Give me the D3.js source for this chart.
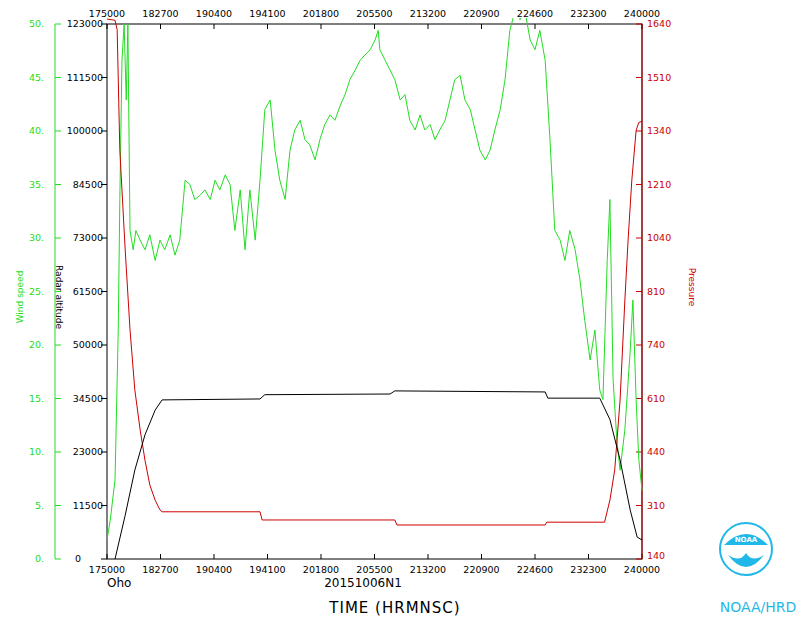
<!DOCTYPE html>
<html><head><meta charset="utf-8">
<script src="https://cdn.jsdelivr.net/npm/d3@7"></script>
<style>body{margin:0;background:#fff}text{font-family:"DejaVu Sans",sans-serif}</style>
</head><body><svg id="c" width="800" height="640"></svg>
<script>
const timeLabels=["175000","182700","190400","194100","201800","205500","213200","220900","224600","232300","240000"];
const windTicks=["0.","5.","10.","15.","20.","25.","30.","35.","40.","45.","50."];
const altTicks=[0,11500,23000,34500,50000,61500,73000,84500,100000,111500,123000];
const presTicks=[140,310,440,610,740,810,1040,1210,1340,1510,1640];
// time positions in tick-index units
const windT=[0,.06,.15,.21,.24,.28,.32,.36,.39,.43,.49,.54,.62,.71,.80,.90,.99,1.08,1.18,1.27,1.36,1.46,1.55,1.64,1.74,1.83,1.93,2.02,2.11,2.21,2.30,2.39,2.49,2.58,2.67,2.77,2.86,2.95,3.05,3.14,3.23,3.33,3.42,3.51,3.61,3.70,3.79,3.89,3.98,4.07,4.17,4.26,4.36,4.45,4.54,4.64,4.73,4.82,4.92,5.01,5.07,5.10,5.20,5.29,5.38,5.48,5.57,5.66,5.76,5.85,5.94,6.04,6.13,6.22,6.32,6.41,6.50,6.60,6.69,6.79,6.88,6.97,7.07,7.16,7.25,7.35,7.44,7.53,7.63,7.68,7.72,7.81,7.91,8.00,8.09,8.19,8.28,8.37,8.47,8.56,8.65,8.75,8.84,8.93,9.03,9.12,9.21,9.27,9.35,9.40,9.46,9.53,9.59,9.68,9.78,9.83,9.89,9.94,10];
const windV=[1.8,3.6,7.4,21.4,33.6,46.6,50,42.9,50,30.7,28.9,30.7,29.8,28.9,30.3,27.9,29.8,28.9,30.3,28.4,29.8,35.4,35,33.6,34,34.5,33.6,35.4,34.5,35.9,35,30.7,34.5,28.9,34.5,29.8,35.4,42,42.9,38.2,35.4,33.6,38.2,40.1,41,39.2,38.7,37.3,39.2,40.6,41.5,41,42.4,43.4,44.8,45.7,46.6,47.1,47.6,48.5,49.4,47.6,46.6,45.7,44.8,42.9,43.4,41,40.1,41.5,40.1,40.6,39.2,40.1,41,42.9,44.8,45.2,42.9,42,40.1,38.2,37.3,38.2,40.1,42,44.8,49.4,51.3,52,50.4,51.3,48.5,47.6,49.4,46.6,39.2,30.7,29.8,27.9,30.7,28.9,26.1,22.3,18.6,21.4,15.8,14.9,27.9,33.6,16.7,11.1,8.3,12.1,19.5,24.2,14.9,9.3,6.4];
const altT=[.15,.34,.52,.71,.90,1.03,2.86,2.95,5.29,5.38,8.19,8.24,9.21,9.40,9.59,9.78,9.91,10];
const altV=[0,9400,19100,26700,32000,34200,34400,35600,35800,36700,36400,34600,34600,30000,21300,10500,4700,4100];
const presT=[0,.15,.19,.24,.34,.43,.52,.62,.71,.80,.90,.99,1.03,2.86,2.90,5.38,5.42,8.19,8.22,9.30,9.40,9.49,9.59,9.68,9.74,9.81,9.89,9.94,10];
const presV=[1652,1649,1626,1293,989,760,631,510,420,360,323,296,290,290,264,264,248,248,257,257,323,396,605,799,1031,1221,1342,1367,1371];

const svg=d3.select("#c");
const L=107,R=642,T=24,B=559;
const x=d3.scaleLinear().domain([0,10]).range([L,R]);
const even=d3.range(11).map(i=>B-(B-T)*i/10);
const yW=d3.scaleLinear().domain([0,50]).range([B,T]);
const yA=d3.scaleLinear().domain(altTicks).range(even);
const yP=d3.scaleLinear().domain(presTicks).range(even);
svg.append("defs").append("clipPath").attr("id","clip").append("rect").attr("x",L).attr("y",T-6).attr("width",R-L+1).attr("height",B-T+6);
const fs=9.5;
svg.append("rect").attr("x",L).attr("y",T).attr("width",R-L).attr("height",B-T).attr("fill","none").attr("stroke","#000");
timeLabels.forEach((lab,i)=>{
  const xx=x(i);
  svg.append("line").attr("x1",xx).attr("x2",xx).attr("y1",B).attr("y2",B-5).attr("stroke","#000");
  svg.append("line").attr("x1",xx).attr("x2",xx).attr("y1",T).attr("y2",T+5).attr("stroke","#000");
  svg.append("text").attr("x",xx).attr("y",B+14).attr("text-anchor","middle").attr("font-size",fs).text(lab);
  svg.append("text").attr("x",xx).attr("y",T-7).attr("text-anchor","middle").attr("font-size",fs).text(lab);
});
altTicks.forEach(v=>{
  svg.append("line").attr("x1",L).attr("x2",L-6).attr("y1",yA(v)).attr("y2",yA(v)).attr("stroke","#000");
  svg.append("text").attr("x",v===0?75:L-4).attr("y",yA(v)+3).attr("text-anchor",v===0?"start":"end").attr("font-size",fs).text(v);
});
const G="#22dd22";
svg.append("line").attr("x1",55).attr("x2",55).attr("y1",T).attr("y2",B).attr("stroke",G);
windTicks.forEach((lab,i)=>{
  const yy=yW(i*5);
  svg.append("line").attr("x1",55).attr("x2",61).attr("y1",yy).attr("y2",yy).attr("stroke",G);
  svg.append("text").attr("x",44).attr("y",yy+3).attr("text-anchor","end").attr("font-size",fs).attr("fill",G).text(lab);
});
const Rd="#cc0000";
svg.append("line").attr("x1",R).attr("x2",R).attr("y1",T).attr("y2",B).attr("stroke",Rd);
presTicks.forEach(v=>{
  svg.append("line").attr("x1",R).attr("x2",R-6).attr("y1",yP(v)).attr("y2",yP(v)).attr("stroke",Rd);
  svg.append("text").attr("x",647).attr("y",yP(v)+(v===140?0:3)).attr("font-size",fs).attr("fill",Rd).text(v);
});
svg.append("text").attr("transform","translate(23,297) rotate(-90)").attr("text-anchor","middle").attr("font-size",9).attr("fill",G).text("Wind speed");
svg.append("text").attr("transform","translate(56,297) rotate(90)").attr("text-anchor","middle").attr("font-size",9).text("Radar altitude");
svg.append("text").attr("transform","translate(689,287) rotate(90)").attr("text-anchor","middle").attr("font-size",9).attr("fill",Rd).text("Pressure");
const g=svg.append("g").attr("clip-path","url(#clip)");
g.append("path").datum(d3.range(windT.length)).attr("fill","none").attr("stroke",G)
 .attr("d",d3.line().x(i=>x(windT[i])).y(i=>yW(windV[i])));
g.append("path").datum(d3.range(presT.length)).attr("fill","none").attr("stroke",Rd)
 .attr("d",d3.line().x(i=>x(presT[i])).y(i=>yP(presV[i])));
g.append("path").datum(d3.range(altT.length)).attr("fill","none").attr("stroke","#000")
 .attr("d",d3.line().x(i=>x(altT[i])).y(i=>yA(altV[i])));
svg.append("text").attr("x",107).attr("y",587).attr("font-size",12).text("Oho");
svg.append("text").attr("x",363).attr("y",587).attr("text-anchor","middle").attr("font-size",12).text("20151006N1");
svg.append("text").attr("x",395).attr("y",613).attr("text-anchor","middle").attr("font-size",15).attr("letter-spacing",1).text("TIME (HRMNSC)");
const lg=svg.append("g").attr("transform","translate(746,549)");
lg.append("circle").attr("r",26).attr("fill","#fff").attr("stroke","#1fb8e8").attr("stroke-width",2);
lg.append("path").attr("d","M-22,-4 Q0,-26 22,-4 Z").attr("fill","#1fb8e8");
lg.append("path").attr("d","M-18,6 Q0,30 18,6 Q6,14 0,4 Q-6,14 -18,6Z").attr("fill","#1fb8e8");
lg.append("text").attr("x",0).attr("y",-7).attr("text-anchor","middle").attr("font-size",7).attr("fill","#fff").attr("font-weight","bold").text("NOAA");
svg.append("text").attr("x",758).attr("y",612).attr("text-anchor","middle").attr("font-size",14).attr("fill","#1fb8e8").text("NOAA/HRD");
</script></body></html>
